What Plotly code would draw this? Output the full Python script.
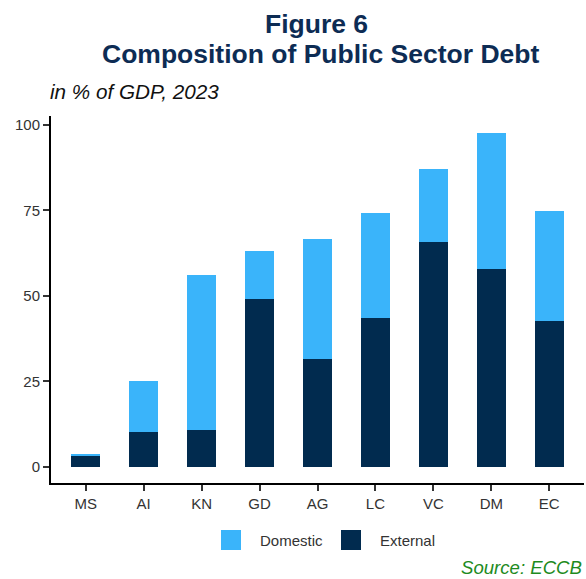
import plotly.graph_objects as go

# Public sector debt by component, % of GDP, 2023
countries = ["MS", "AI", "KN", "GD", "AG", "LC", "VC", "DM", "EC"]
external = [3.3, 10.3, 10.9, 49.1, 31.7, 43.6, 65.8, 57.9, 42.8]
domestic = [0.25, 14.9, 45.1, 14.1, 35.0, 30.7, 21.3, 39.8, 32.1]
y_ticks = [0, 25, 50, 75, 100]

C_DOM = "#3AB4FA"
C_EXT = "#012B4F"
C_TITLE = "#0D2C54"
C_TEXT = "#333333"

W, H = 586, 579
L, R, T, B = 51, 2, 116, 96
PW, PH = W - L - R, H - T - B


def px(x):
    return (x - L) / PW


def py(y):
    return (H - B - y) / PH


fig = go.Figure()
fig.add_trace(go.Bar(x=countries, y=external, name="External",
                     marker=dict(color=C_EXT, line=dict(width=0)),
                     width=0.5, showlegend=False))
fig.add_trace(go.Bar(x=countries, y=domestic, name="Domestic",
                     marker=dict(color=C_DOM, line=dict(width=0)),
                     width=0.5, showlegend=False))

font_family = "Liberation Sans, Arial, sans-serif"

annotations = [
    dict(text="<b>Figure 6</b>", x=px(316), y=py(23.5), xref="paper", yref="paper",
         xanchor="center", yanchor="middle", showarrow=False,
         font=dict(size=26.5, color=C_TITLE, family=font_family)),
    dict(text="<b>Composition of Public Sector Debt</b>", x=px(320.5), y=py(54),
         xref="paper", yref="paper", xanchor="center", yanchor="middle",
         showarrow=False, font=dict(size=26.5, color=C_TITLE, family=font_family)),
    dict(text="<i>in % of GDP, 2023</i>", x=px(48), y=py(91), xref="paper",
         yref="paper", xanchor="left", yanchor="middle", showarrow=False,
         font=dict(size=20.7, color="#111111", family=font_family)),
    dict(text="<i>Source: ECCB</i>", x=px(583), y=py(567), xref="paper",
         yref="paper", xanchor="right", yanchor="middle", showarrow=False,
         borderpad=0,
         font=dict(size=18.6, color="#1E8B1E", family=font_family)),
    dict(text="Domestic", x=px(258), y=py(540), xref="paper", yref="paper",
         xanchor="left", yanchor="middle", showarrow=False,
         font=dict(size=15, color=C_TEXT, family=font_family)),
    dict(text="External", x=px(378), y=py(540), xref="paper", yref="paper",
         xanchor="left", yanchor="middle", showarrow=False,
         font=dict(size=15, color=C_TEXT, family=font_family)),
]

shapes = [
    dict(type="rect", xref="paper", yref="paper", x0=px(221), x1=px(241),
         y0=py(550), y1=py(530), fillcolor=C_DOM, line=dict(width=0)),
    dict(type="rect", xref="paper", yref="paper", x0=px(341), x1=px(361),
         y0=py(550), y1=py(530), fillcolor=C_EXT, line=dict(width=0)),
]

fig.update_layout(
    width=W, height=H,
    margin=dict(l=L, r=R, t=T, b=B, pad=0),
    barmode="stack",
    plot_bgcolor="white", paper_bgcolor="white",
    font=dict(family=font_family, color=C_TEXT, size=15),
    annotations=annotations,
    shapes=shapes,
    showlegend=False,
    xaxis=dict(range=[-0.6, 8.6], showline=True, linecolor="black", linewidth=2,
               ticks="outside", ticklen=6, tickwidth=2, tickcolor="#333333",
               showgrid=False, zeroline=False,
               tickfont=dict(size=15, color=C_TEXT)),
    yaxis=dict(range=[-4.7, 102.6], tickvals=y_ticks, showline=True,
               linecolor="black", linewidth=2, ticks="outside", ticklen=6,
               tickwidth=2, tickcolor="#333333", showgrid=False, zeroline=False,
               tickfont=dict(size=15, color=C_TEXT)),
)

fig.write_html("out.html")
